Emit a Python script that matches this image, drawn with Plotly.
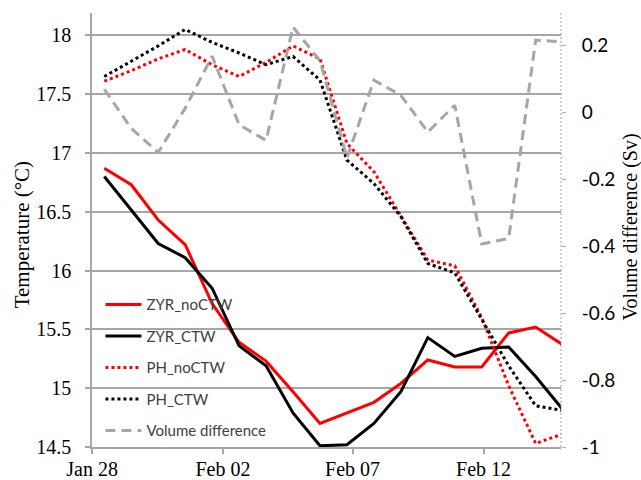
import plotly.graph_objects as go

# ---- data ----
sample_index = [0, 1, 2, 3, 4, 5, 6, 7, 8, 9, 10, 11, 12, 13, 14, 15, 16, 17]

zyr_noctw = [16.87, 16.73, 16.43, 16.22, 15.72, 15.39, 15.23, 14.97, 14.70,
             14.79, 14.88, 15.04, 15.24, 15.18, 15.18, 15.47, 15.52, 15.37]
zyr_ctw = [16.80, 16.52, 16.23, 16.11, 15.85, 15.36, 15.19, 14.79, 14.51,
           14.52, 14.70, 14.97, 15.43, 15.27, 15.34, 15.35, 15.10, 14.82]
ph_noctw = [17.61, 17.70, 17.80, 17.88, 17.75, 17.65, 17.77, 17.91, 17.80,
            17.08, 16.84, 16.47, 16.09, 16.04, 15.60, 15.02, 14.53, 14.61]
ph_ctw = [17.65, 17.78, 17.91, 18.05, 17.94, 17.85, 17.75, 17.82, 17.62,
          16.94, 16.74, 16.46, 16.06, 15.98, 15.58, 15.19, 14.85, 14.81]
volume_diff = [0.070, -0.047, -0.119, 0.013, 0.169, -0.036, -0.083, 0.256, 0.155,
               -0.135, 0.097, 0.052, -0.058, 0.022, -0.393, -0.376, 0.217, 0.212]

date_tick_pos = [-0.45, 4.40, 9.21, 14.07]
date_tick_labels = ["Jan 28", "Feb 02", "Feb 07", "Feb 12"]

temp_ticks = [14.5, 15, 15.5, 16, 16.5, 17, 17.5, 18]
temp_tick_labels = ["14.5", "15", "15.5", "16", "16.5", "17", "17.5", "18"]
vol_ticks = [-1, -0.8, -0.6, -0.4, -0.2, 0, 0.2]
vol_tick_labels = ["-1", "-0.8", "-0.6", "-0.4", "-0.2", "0", "0.2"]

series_names = ["ZYR_noCTW", "ZYR_CTW", "PH_noCTW", "PH_CTW", "Volume difference"]

# ---- styling ----
GRID = "#A6A6A6"
SERIF = "Liberation Serif, Times New Roman, serif"
SANS = "Lato, Noto Sans, sans-serif"

fig = go.Figure()
fig.add_trace(go.Scatter(x=sample_index, y=zyr_noctw, name=series_names[0], mode="lines",
                         line=dict(color="#FF0000", width=3), legendgroup="a"))
fig.add_trace(go.Scatter(x=sample_index, y=zyr_ctw, name=series_names[1], mode="lines",
                         line=dict(color="#000000", width=3), legendgroup="b"))
fig.add_trace(go.Scatter(x=sample_index, y=ph_noctw, name=series_names[2], mode="lines",
                         line=dict(color="#FF0000", width=3, dash="3px,3px"), legendgroup="c"))
fig.add_trace(go.Scatter(x=sample_index, y=ph_ctw, name=series_names[3], mode="lines",
                         line=dict(color="#000000", width=3, dash="3px,3px"), legendgroup="d"))
fig.add_trace(go.Scatter(x=sample_index, y=volume_diff, name=series_names[4], mode="lines",
                         line=dict(color="#A6A6A6", width=3, dash="10px,6px"),
                         yaxis="y2", legendgroup="e"))

fig.update_layout(
    width=641, height=480,
    margin=dict(l=92, r=80, t=13, b=33, autoexpand=False),
    paper_bgcolor="white", plot_bgcolor="white",
    showlegend=True,
    legend=dict(x=0.018, y=0.366, xanchor="left", yanchor="top",
                bgcolor="rgba(0,0,0,0)", font=dict(family=SANS, size=15, color="#404040"),
                tracegroupgap=9, traceorder="grouped", itemwidth=36),
    xaxis=dict(range=[-0.456, 16.94], tickmode="array", tickvals=date_tick_pos,
               ticktext=date_tick_labels, showgrid=False, zeroline=False,
               showline=True, linecolor=GRID, linewidth=1.5, automargin=False,
               ticks="outside", ticklen=5, tickcolor=GRID, tickwidth=1.5,
               ticklabelstandoff=-2,
               tickfont=dict(family=SERIF, size=20, color="#000000")),
    yaxis=dict(range=[14.5, 18.19], tickmode="array", tickvals=temp_ticks,
               ticktext=temp_tick_labels, showgrid=True, gridcolor=GRID, gridwidth=1.5,
               zeroline=False, showline=True, linecolor=GRID, linewidth=1.5,
               automargin=False,
               ticks="outside", ticklen=5, tickcolor=GRID, tickwidth=1.5,
               ticklabelstandoff=10,
               tickfont=dict(family=SERIF, size=20, color="#000000")),
    yaxis2=dict(range=[-1, 0.298], overlaying="y", side="right", tickmode="array",
                tickvals=vol_ticks, ticktext=vol_tick_labels, showgrid=False,
                zeroline=False, showline=False, ticks="outside", ticklen=4,
                automargin=False,
                tickcolor="#B0B0B0", tickwidth=1, ticklabelstandoff=12,
                tickfont=dict(family=SANS, size=19, color="#000000")),
    shapes=[dict(type="line", xref="paper", yref="paper", x0=1, x1=1, y0=0, y1=1,
                 line=dict(color="#A0A0A0", width=1, dash="2px,2px"))],
    annotations=[
        dict(text="Temperature (°C)", xref="paper", yref="paper", x=-0.149, y=0.488,
             xanchor="center", yanchor="middle", textangle=-90, showarrow=False,
             font=dict(family=SERIF, size=21, color="#000000")),
        dict(text="Volume difference (Sv)", xref="paper", yref="paper", x=1.149, y=0.508,
             xanchor="center", yanchor="middle", textangle=-90, showarrow=False,
             font=dict(family=SERIF, size=20, color="#000000")),
    ],
)

fig.write_html("out.html")
